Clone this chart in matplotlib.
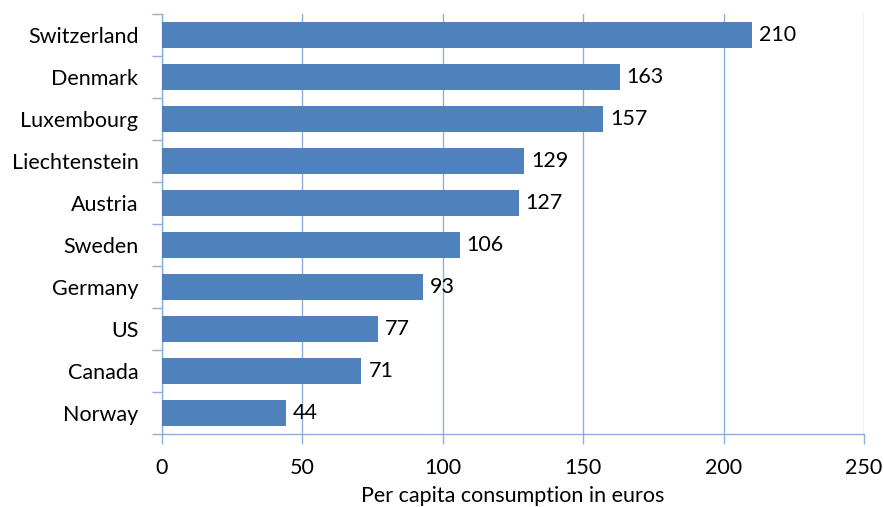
import matplotlib.pyplot as plt
import numpy as np

countries = ["Switzerland", "Denmark", "Luxembourg", "Liechtenstein", "Austria",
             "Sweden", "Germany", "US", "Canada", "Norway"]
values = [210, 163, 157, 129, 127, 106, 93, 77, 71, 44]
xticks = [0, 50, 100, 150, 200, 250]

plt.rcParams['font.family'] = ['Lato', 'DejaVu Sans']

bar_color = "#4F81BD"
line_color = "#8EB0DC"
fs = 15.5

fig = plt.figure(figsize=(8.84, 5.07), dpi=100)
ax = fig.add_axes([0.1833, 0.144, 0.7941, 0.8284])

y = np.arange(len(countries))[::-1]
ax.barh(y, values, height=0.62, color=bar_color, zorder=3)
for yi, v in zip(y, values):
    ax.text(v + 2.5, yi, str(v), va="center", ha="left", fontsize=fs, zorder=4)

ax.set_xlim(0, 250)
ax.set_ylim(-0.5, len(countries) - 0.5)
ax.set_xticks(xticks)
ax.set_xticklabels([str(t) for t in xticks], fontsize=fs)
ax.set_yticks(y)
ax.set_yticklabels(countries, fontsize=fs)
ax.tick_params(axis="y", which="major", length=0, pad=17)
ax.set_yticks(np.arange(-0.5, len(countries)), minor=True)
ax.tick_params(axis="y", which="minor", length=7, color=line_color, width=1)
ax.tick_params(axis="x", length=7, color=line_color, width=1, pad=10)

ax.grid(axis="x", color=line_color, linewidth=1, zorder=0)
for s in ["top", "right"]:
    ax.spines[s].set_visible(False)
for s in ["left", "bottom"]:
    ax.spines[s].set_color(line_color)
    ax.spines[s].set_linewidth(1)

ax.set_xlabel("Per capita consumption in euros", fontsize=fs, labelpad=6)

fig.savefig("out.png", dpi=100)
